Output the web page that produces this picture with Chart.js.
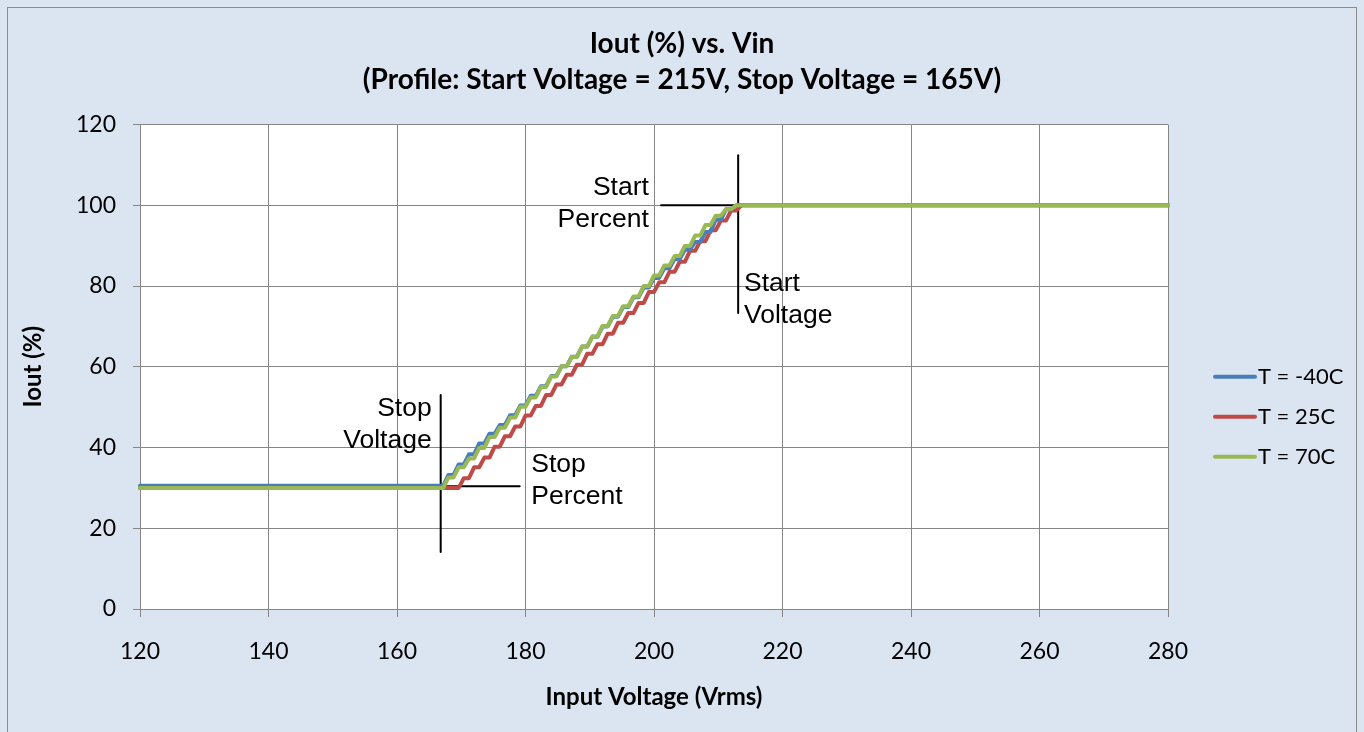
<!DOCTYPE html>
<html>
<head>
<meta charset="utf-8">
<title>Iout (%) vs. Vin</title>
<script src="https://cdn.jsdelivr.net/npm/chart.js@4.4.0/dist/chart.umd.min.js"></script>
<style>
  html, body { margin: 0; padding: 0; background: #dbe5f1; }
  #wrap { width: 1364px; height: 732px; }
</style>
</head>
<body>
<div id="wrap"><canvas id="lineChart"></canvas></div>
<script>
// Input voltage sweep (Vrms)
var vin = [120,
    166.4, 167.2, 168.0, 168.8, 169.6, 170.4, 171.2, 172.0, 172.8, 173.6,
    174.4, 175.2, 176.0, 176.8, 177.6, 178.4, 179.2, 180.0, 180.8, 181.6,
    182.4, 183.2, 184.0, 184.8, 185.6, 186.4, 187.2, 188.0, 188.8, 189.6,
    190.4, 191.2, 192.0, 192.8, 193.6, 194.4, 195.2, 196.0, 196.8, 197.6,
    198.4, 199.2, 200.0, 200.8, 201.6, 202.4, 203.2, 204.0, 204.8, 205.6,
    206.4, 207.2, 208.0, 208.8, 209.6, 210.4, 211.2, 212.0, 212.8, 213.6,
    214.4, 280];

// Iout (%) per temperature
var ioutM40 = [30.5,
    30.5, 30.5, 33.2, 33.2, 35.8, 35.8, 38.3, 38.3, 41.0, 41.0,
    43.4, 43.4, 45.6, 45.6, 48.0, 48.0, 50.4, 50.4, 52.8, 52.8,
    55.2, 55.2, 57.7, 57.7, 60.1, 60.1, 62.5, 62.5, 65.0, 65.0,
    67.4, 67.4, 70.0, 70.0, 72.4, 72.4, 74.8, 74.8, 77.2, 77.2,
    79.6, 79.6, 82.0, 82.0, 84.4, 84.4, 86.7, 86.7, 89.0, 89.0,
    90.9, 90.9, 93.4, 93.4, 96.4, 96.4, 99.0, 99.0, 100, 100,
    100, 100];
var iout25 = [30,
    30, 30, 30, 30, 30, 32.4, 32.4, 35.1, 35.1, 37.5,
    37.5, 40.2, 40.2, 42.8, 42.8, 45.2, 45.2, 47.9, 47.9, 50.3,
    50.3, 53.0, 53.0, 55.6, 55.6, 58.0, 58.0, 60.5, 60.5, 63.2,
    63.2, 65.6, 65.6, 68.2, 68.2, 70.9, 70.9, 73.3, 73.3, 75.8,
    75.8, 78.5, 78.5, 80.9, 80.9, 83.5, 83.5, 86.0, 86.0, 88.7,
    88.7, 91.1, 91.1, 93.8, 93.8, 96.2, 96.2, 98.7, 98.7, 100,
    100, 100];
var iout70 = [30,
    30, 30, 32.6, 32.6, 35.1, 35.1, 37.3, 37.3, 39.9, 39.9,
    42.6, 42.6, 44.9, 44.9, 47.4, 47.4, 50.1, 50.1, 52.4, 52.4,
    55.0, 55.0, 57.6, 57.6, 60.1, 60.1, 62.4, 62.4, 65.0, 65.0,
    67.5, 67.5, 70.1, 70.1, 72.6, 72.6, 75.0, 75.0, 77.4, 77.4,
    80.0, 80.0, 82.6, 82.6, 85.1, 85.1, 87.4, 87.4, 89.9, 89.9,
    92.5, 92.5, 95.1, 95.1, 97.4, 97.4, 99.0, 99.0, 100, 100,
    100, 100];

var seriesLabels = ['T = -40C', 'T = 25C', 'T = 70C'];

// Stop / start crosses (volts, percent)
var stopVoltageMark = [{ x: 166.8, y: 14.1 }, { x: 166.8, y: 53.0 }];
var stopPercentMark = [{ x: 154.5, y: 30.4 }, { x: 179.1, y: 30.4 }];
var startVoltageMark = [{ x: 213.1, y: 73.3 }, { x: 213.1, y: 112.4 }];
var startPercentMark = [{ x: 201.1, y: 100 }, { x: 225.5, y: 100 }];

var notes = [
    { lines: ['Stop', 'Voltage'], x: 165.4, y: 49.5, align: 'right' },
    { lines: ['Stop', 'Percent'], x: 180.9, y: 35.7, align: 'left' },
    { lines: ['Start', 'Percent'], x: 199.2, y: 104.3, align: 'right' },
    { lines: ['Start', 'Voltage'], x: 214.0, y: 80.5, align: 'left' }
];

function toPoints(xs, ys) {
    return xs.map(function (v, i) { return { x: v, y: ys[i] }; });
}

Chart.defaults.font.family = 'Lato, "Open Sans", sans-serif';
Chart.defaults.color = '#000';

// grey panel, outer frame and white plot area
var chartBackground = {
    id: 'chartBackground',
    beforeDraw: function (chart) {
        var c = chart.ctx, a = chart.chartArea;
        c.save();
        c.fillStyle = '#dbe5f1';
        c.fillRect(0, 0, chart.width, chart.height);
        c.strokeStyle = '#8c8c8c';
        c.lineWidth = 1;
        c.strokeRect(7.5, 7.5, chart.width - 15, chart.height + 20);
        c.fillStyle = '#ffffff';
        c.fillRect(a.left, a.top, a.right - a.left, a.bottom - a.top);
        c.restore();
    }
};

// keep the legend box as a fixed-width column on the right
var legendSpace = {
    id: 'legendSpace',
    beforeInit: function (chart) {
        var fit = chart.legend.fit;
        chart.legend.fit = function () {
            fit.call(this);
            this.width = 196;
        };
    }
};

// legend drawn like the Excel one: short line + label
var legendLines = {
    id: 'legendLines',
    afterDraw: function (chart) {
        var c = chart.ctx, box = chart.legend, a = chart.chartArea;
        var x0 = box.left + 47;
        var y0 = (a.top + a.bottom) / 2 + 10;
        var row = 0;
        c.save();
        c.font = '22px Lato, sans-serif';
        c.textBaseline = 'middle';
        c.textAlign = 'left';
        chart.data.datasets.forEach(function (ds) {
            if (!ds.label) return;
            var y = y0 + row * 40;
            c.strokeStyle = ds.borderColor;
            c.lineWidth = 4;
            c.lineCap = 'round';
            c.beginPath();
            c.moveTo(x0, y);
            c.lineTo(x0 + 40, y);
            c.stroke();
            c.fillStyle = '#000';
            c.fillText(ds.label, x0 + 43, y);
            row++;
        });
        c.restore();
    }
};

// "Stop Voltage" etc. text next to the crosses
var crossNotes = {
    id: 'crossNotes',
    afterDraw: function (chart) {
        var c = chart.ctx, xs = chart.scales.x, ys = chart.scales.y;
        c.save();
        c.font = '26.5px "Liberation Sans", Arial, sans-serif';
        c.fillStyle = '#000';
        c.textBaseline = 'middle';
        notes.forEach(function (n) {
            var px = xs.getPixelForValue(n.x);
            var py = ys.getPixelForValue(n.y);
            c.textAlign = n.align;
            n.lines.forEach(function (t, i) {
                c.fillText(t, px, py + i * 32);
            });
        });
        c.restore();
    }
};

var ctx1 = document.getElementById('lineChart').getContext('2d');
var lineChart = new Chart(ctx1, {
    type: 'line',
    data: {
        datasets: [{
            label: seriesLabels[0],
            data: toPoints(vin, ioutM40),
            borderColor: '#4a7ebb',
            order: 1
        }, {
            label: seriesLabels[1],
            data: toPoints(vin, iout25),
            borderColor: '#be4b48',
            order: 2
        }, {
            label: seriesLabels[2],
            data: toPoints(vin, iout70),
            borderColor: '#98b954',
            order: 0
        }, {
            data: stopVoltageMark, borderColor: '#000', borderWidth: 2, order: 3
        }, {
            data: stopPercentMark, borderColor: '#000', borderWidth: 2, order: 3
        }, {
            data: startVoltageMark, borderColor: '#000', borderWidth: 2, order: 3
        }, {
            data: startPercentMark, borderColor: '#000', borderWidth: 2, order: 3
        }]
    },
    options: {
        responsive: true,
        maintainAspectRatio: false,
        animation: false,
        layout: { padding: 0 },
        datasets: {
            line: {
                borderWidth: 4,
                pointRadius: 0,
                tension: 0,
                fill: false,
                clip: false,
                borderCapStyle: 'round',
                borderJoinStyle: 'round'
            }
        },
        plugins: {
            legend: { display: false, position: 'right' },
            tooltip: { enabled: false },
            title: {
                display: true,
                text: ['Iout (%) vs. Vin', '(Profile: Start Voltage = 215V, Stop Voltage = 165V)'],
                font: { size: 28, weight: 'bold', lineHeight: 36 / 28 },
                padding: { top: 26, bottom: 26.5 }
            }
        },
        scales: {
            x: {
                type: 'linear',
                min: 120,
                max: 280,
                ticks: { stepSize: 20, padding: 21, font: { size: 23 }, maxRotation: 0 },
                grid: { color: '#868686', tickLength: 8 },
                border: { color: '#868686' },
                title: {
                    display: true,
                    text: 'Input Voltage (Vrms)',
                    font: { size: 24, weight: 'bold' },
                    padding: { top: 0, bottom: 20.5 }
                },
                afterFit: function (s) { s.height = 123; }
            },
            y: {
                min: 0,
                max: 120,
                ticks: { stepSize: 20, padding: 17, font: { size: 23 } },
                grid: { color: '#868686', tickLength: 7 },
                border: { color: '#868686' },
                title: {
                    display: true,
                    text: 'Iout (%)',
                    font: { size: 24, weight: 'bold' },
                    padding: { top: 18.5, bottom: 0 }
                },
                afterFit: function (s) { s.width = 140; }
            }
        }
    },
    plugins: [chartBackground, legendSpace, legendLines, crossNotes]
});
</script>
</body>
</html>
